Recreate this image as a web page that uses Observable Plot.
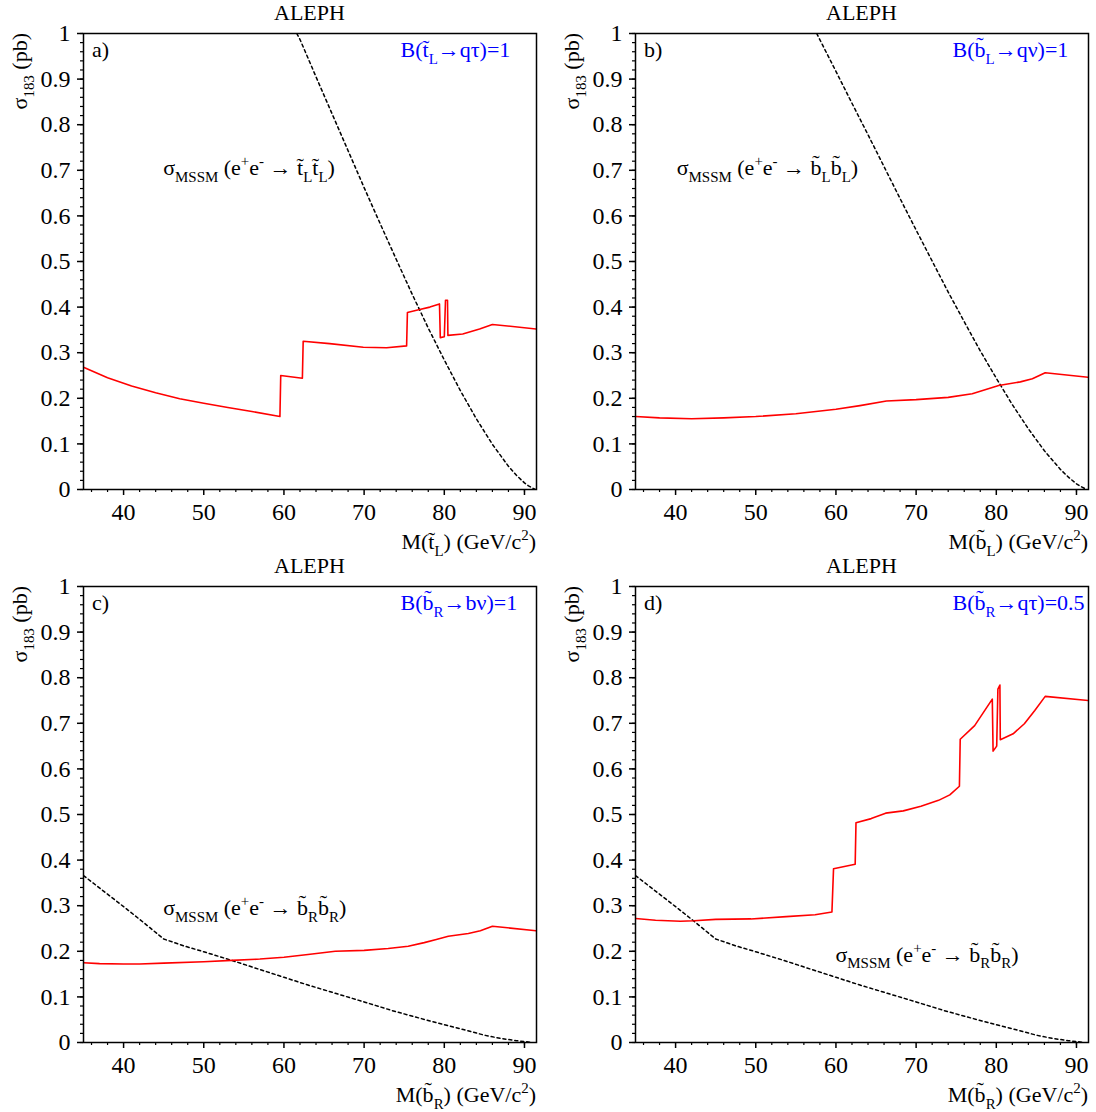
<!DOCTYPE html>
<html><head><meta charset="utf-8">
<script src="https://cdn.jsdelivr.net/npm/d3@7"></script>
<script src="https://cdn.jsdelivr.net/npm/@observablehq/plot@0.6"></script>
<style>
body{margin:0;background:#fff;overflow:hidden}
#wrap{position:relative;width:1096px;height:1112px;background:#fff}
#wrap svg{position:absolute}
#wrap svg text{font-family:'Liberation Serif',serif !important}
</style></head><body><div id="wrap"></div>
<script>
// ---------- data ----------
const xMajor = [40, 50, 60, 70, 80, 90];
const xMinor = [36, 38, 42, 44, 46, 48, 52, 54, 56, 58, 62, 64, 66, 68, 72, 74, 76, 78, 82, 84, 86, 88, 90];
const yMajor = [0, 0.1, 0.2, 0.3, 0.4, 0.5, 0.6, 0.7, 0.8, 0.9, 1];
const yMinor = d3.range(0, 51).map(i => i / 50);

// panel a: stop L, B(t->q tau)=1
const redA_x = [35, 38, 41, 44, 47, 50, 53, 56, 59.5, 59.6, 62.3, 62.4, 65.7, 69.9, 72.8, 75.3, 75.4, 76.8, 78.2, 79.4, 79.5, 80.0, 80.15, 80.4, 80.45, 82.3, 84.4, 86.0, 91.5];
const redA_y = [0.268, 0.245, 0.227, 0.212, 0.199, 0.189, 0.180, 0.171, 0.160, 0.250, 0.244, 0.325, 0.320, 0.312, 0.311, 0.315, 0.388, 0.394, 0.400, 0.407, 0.333, 0.335, 0.415, 0.415, 0.338, 0.341, 0.352, 0.362, 0.352];
const dashA_x = [61.6, 62, 64, 66, 68, 70, 72, 74, 76, 78, 80, 82, 84, 86, 88, 89, 90, 90.5, 91, 91.3];
const dashA_y = [1.0, 0.987, 0.905, 0.824, 0.743, 0.662, 0.583, 0.505, 0.428, 0.354, 0.284, 0.217, 0.155, 0.099, 0.051, 0.031, 0.0145, 0.008, 0.003, 0.0005];

// panel b: sbottom L, B(b->q nu)=1
const redB_x = [35, 38, 42, 46, 50, 55, 60, 63, 66.3, 70, 74, 77, 80.3, 83, 84.5, 86.1, 91.5];
const redB_y = [0.160, 0.157, 0.155, 0.157, 0.160, 0.166, 0.176, 0.184, 0.194, 0.197, 0.202, 0.210, 0.228, 0.236, 0.243, 0.256, 0.246];
const dashB_x = [57.6, 60, 62, 64, 66, 68, 70, 72, 74, 76, 78, 80, 82, 84, 86, 88, 89, 90, 90.5, 91, 91.3];
const dashB_y = [1.0, 0.917, 0.847, 0.778, 0.708, 0.638, 0.569, 0.501, 0.433, 0.368, 0.304, 0.244, 0.186, 0.133, 0.085, 0.044, 0.027, 0.0125, 0.007, 0.0024, 0.0004];

// panel c: sbottom R, B(b->b nu)=1
const redC_x = [35, 37, 40, 42, 45, 50, 53.5, 57, 60, 63, 66.4, 70, 73, 75.5, 77.5, 79, 80.5, 83, 84.5, 86, 91.5];
const redC_y = [0.175, 0.173, 0.172, 0.172, 0.174, 0.177, 0.180, 0.183, 0.187, 0.193, 0.200, 0.202, 0.206, 0.211, 0.219, 0.226, 0.233, 0.239, 0.245, 0.255, 0.245];

// panel d: sbottom R, B(b->q tau)=0.5
const redD_x = [35, 37.5, 40.6, 42.3, 45, 49.4, 53.8, 57.4, 59.5, 59.7, 62.4, 62.5, 64.4, 66.2, 68.4, 70.6, 72.8, 74.2, 75.4, 75.5, 77.3, 79.5, 79.6, 80.05, 80.2, 80.45, 80.5, 82.1, 83.5, 84.8, 86.1, 91.5];
const redD_y = [0.272, 0.268, 0.266, 0.267, 0.270, 0.271, 0.276, 0.280, 0.286, 0.381, 0.391, 0.482, 0.491, 0.503, 0.508, 0.518, 0.531, 0.543, 0.562, 0.665, 0.695, 0.753, 0.639, 0.650, 0.775, 0.784, 0.664, 0.677, 0.699, 0.728, 0.759, 0.750];

// MSSM cross-section for right sbottom (panels c and d)
const dashR_x = [35, 37.5, 40, 42.5, 45, 47.5, 50, 53.5, 57, 60, 63, 66.4, 70, 73.5, 77, 80, 82.5, 85, 87, 89, 91];
const dashR_y = [0.366, 0.332, 0.298, 0.263, 0.227, 0.212, 0.199, 0.180, 0.160, 0.143, 0.126, 0.108, 0.089, 0.070, 0.053, 0.039, 0.028, 0.016, 0.009, 0.004, 0.0];

// texts
const titleText = "ALEPH";
const yLabel = "σ_{183} (pb)";
const letters = ["a)", "b)", "c)", "d)"];
const brLabels = ["B(t\u0303_{L}→qτ)=1", "B(b\u0303_{L}→qν)=1", "B(b\u0303_{R}→bν)=1", "B(b\u0303_{R}→qτ)=0.5"];
const sigmaLabels = [
  "σ_{MSSM} (e^{+}e^{-} → t\u0303_{L}t\u0303_{L})",
  "σ_{MSSM} (e^{+}e^{-} → b\u0303_{L}b\u0303_{L})",
  "σ_{MSSM} (e^{+}e^{-} → b\u0303_{R}b\u0303_{R})",
  "σ_{MSSM} (e^{+}e^{-} → b\u0303_{R}b\u0303_{R})"
];
const xLabels = ["M(t\u0303_{L}) (GeV/c^{2})", "M(b\u0303_{L}) (GeV/c^{2})", "M(b\u0303_{R}) (GeV/c^{2})", "M(b\u0303_{R}) (GeV/c^{2})"];
// annotation anchors in data units
const sigmaAnchorX = [45, 40.2, 45, 60];
const sigmaAnchorY = [0.688, 0.688, 0.278, 0.176];
const brAnchorX = 74.6, brAnchorY = 0.947;

// ---------- drawing ----------
const FONT = "Liberation Serif";
const FS = 22;      // annotation text
const TFS = 24;     // tick labels

function rich(textSel, markup, fs) {
  const parts = [];
  const re = /([_^])\{([^}]*)\}/g;
  let last = 0, m;
  while ((m = re.exec(markup))) {
    if (m.index > last) parts.push({t: markup.slice(last, m.index), s: 0});
    parts.push({t: m[2], s: m[1] === "_" ? 1 : -1});
    last = re.lastIndex;
  }
  if (last < markup.length) parts.push({t: markup.slice(last), s: 0});
  let cur = 0;
  for (const p of parts) {
    const target = p.s === 1 ? 0.3 * fs : p.s === -1 ? -0.42 * fs : 0;
    const ts = textSel.append("tspan").text(p.t).attr("dy", target - cur);
    if (p.s) ts.attr("font-size", 0.68 * fs);
    cur = target;
  }
}

const panels = [
  {redX: redA_x, redY: redA_y, dashX: dashA_x, dashY: dashA_y, left: 0, top: 0},
  {redX: redB_x, redY: redB_y, dashX: dashB_x, dashY: dashB_y, left: 552, top: 0},
  {redX: redC_x, redY: redC_y, dashX: dashR_x, dashY: dashR_y, left: 0, top: 553},
  {redX: redD_x, redY: redD_y, dashX: dashR_x, dashY: dashR_y, left: 552, top: 553}
];

const W = 544, H = 553, ML = 83, MR = 8, MT = 33, MB = 64;
const wrap = document.getElementById("wrap");

panels.forEach((p, i) => {
  const chart = Plot.plot({
    width: W, height: H,
    marginLeft: ML, marginRight: MR, marginTop: MT, marginBottom: MB,
    x: {domain: [35, 91.5]},
    y: {domain: [0, 1]},
    style: `font-family: '${FONT}', serif; font-size: ${TFS}px; background: transparent; color: black; overflow: visible; max-width: none;`,
    marks: [
      Plot.axisX({ticks: xMinor, tickSize: 3, tickFormat: () => "", label: null, strokeWidth: 1.2}),
      Plot.axisX({ticks: xMajor, tickSize: 6, tickPadding: 7, tickFormat: d => String(d), label: null, strokeWidth: 1.5}),
      Plot.axisY({ticks: yMinor, tickSize: 3, tickFormat: () => "", label: null, strokeWidth: 1.2}),
      Plot.axisY({ticks: yMajor, tickSize: 6, tickPadding: 7, tickFormat: d => String(+d.toFixed(1)), label: null, strokeWidth: 1.5}),
      Plot.line(p.dashX, {x: p.dashX, y: p.dashY, stroke: "black", strokeWidth: 1.5, strokeDasharray: "3,3", clip: true}),
      Plot.line(p.redX, {x: p.redX, y: p.redY, stroke: "#ff0000", strokeWidth: 1.6, clip: true}),
      Plot.frame({stroke: "black", strokeWidth: 1.5})
    ]
  });
  chart.style.left = p.left + "px";
  chart.style.top = p.top + "px";
  wrap.appendChild(chart);

  const svg = d3.select(chart);
  const sx = chart.scale("x"), sy = chart.scale("y");
  const x0 = ML, x1 = W - MR, y0 = MT;

  svg.append("text").attr("x", (x0 + x1) / 2).attr("y", 20)
    .attr("text-anchor", "middle").attr("font-size", FS)
    .attr("fill", "black").text(titleText);

  const yl = svg.append("text").attr("transform", `translate(27,${y0}) rotate(-90)`)
    .attr("text-anchor", "end").attr("font-size", FS).attr("fill", "black");
  rich(yl, yLabel, FS);

  const xl = svg.append("text").attr("x", x1).attr("y", 549)
    .attr("text-anchor", "end").attr("font-size", FS).attr("fill", "black");
  rich(xl, xLabels[i], FS);

  svg.append("text").attr("x", x0 + 9).attr("y", sy.apply(brAnchorY))
    .attr("text-anchor", "start").attr("font-size", FS).attr("fill", "black").text(letters[i]);

  const br = svg.append("text").attr("x", sx.apply(brAnchorX)).attr("y", sy.apply(brAnchorY))
    .attr("text-anchor", "start").attr("font-size", FS).attr("fill", "#0000ff");
  rich(br, brLabels[i], FS);

  const sg = svg.append("text").attr("x", sx.apply(sigmaAnchorX[i])).attr("y", sy.apply(sigmaAnchorY[i]))
    .attr("text-anchor", "start").attr("font-size", FS).attr("fill", "black");
  rich(sg, sigmaLabels[i], FS);
});
</script>
</body></html>
